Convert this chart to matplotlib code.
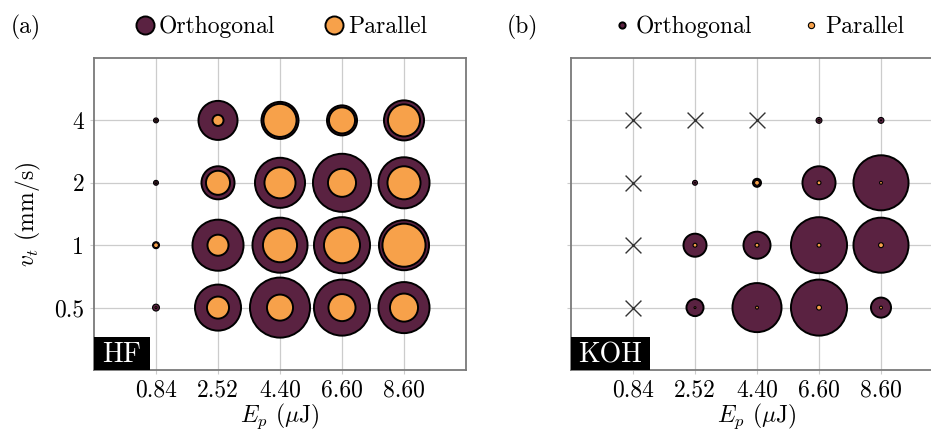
import numpy as np
import matplotlib
matplotlib.use("Agg")
import matplotlib.pyplot as plt
from matplotlib.lines import Line2D
from matplotlib.patches import Rectangle

plt.rcParams['font.family'] = 'serif'
plt.rcParams['font.serif'] = ['cmr10']
plt.rcParams['mathtext.fontset'] = 'cm'
plt.rcParams['axes.unicode_minus'] = False

# data: bubble diameters (px)
energies = ['0.84', '2.52', '4.40', '6.60', '8.60']
speeds = ['0.5', '1', '2', '4']

# rows = speeds (0.5, 1, 2, 4), columns = energies
hf_orth = [[8, 48, 62, 58, 53],
           [8, 53, 57, 58, 52],
           [6, 35, 52, 60, 53],
           [6, 41, 39, 32, 42]]
hf_par = [[3, 24, 28, 29, 30],
          [6, 23, 36, 38, 45],
          [3, 26, 33, 30, 35],
          [3, 13, 35, 28, 34]]

nan = np.nan
koh_orth = [[nan, 19, 51, 58, 22],
            [nan, 25, 29, 58, 57],
            [nan, 6, 10, 35, 57],
            [nan, nan, nan, 7, 7]]
koh_par = [[nan, 3, 4, 6, 4],
           [nan, 5, 5, 5, 6],
           [nan, 2, 6, 5, 4],
           [nan, nan, nan, 3, 2]]

ORTH = '#5a2241'
PAR = '#f7a14a'
LW = 1.4


def edge_w(d):
    # thinner outline on the very small circles so the fill still shows
    d = np.asarray(d, dtype=float)
    return np.where(d < 9, 0.8, LW)


def px_to_s(d):
    # pixel diameter (incl. stroke) -> scatter size in pt^2 at dpi 100
    d = np.asarray(d, dtype=float)
    d = d * 0.72 - edge_w(d)
    return np.clip(d, 0.5, None) ** 2


def draw_panel(ax, orth, par, tag, tag_w, leg_size):
    orth = np.array(orth, dtype=float)
    par = np.array(par, dtype=float)
    xx, yy = np.meshgrid(np.arange(len(energies)), np.arange(len(speeds)))
    ok = ~np.isnan(orth)

    ax.scatter(xx[ok], yy[ok], s=px_to_s(orth[ok]), c=ORTH, edgecolors='black',
               linewidths=edge_w(orth[ok]), zorder=3)
    ax.scatter(xx[ok], yy[ok], s=px_to_s(par[ok]), c=PAR, edgecolors='black',
               linewidths=edge_w(par[ok]), zorder=4)
    if (~ok).any():
        ax.scatter(xx[~ok], yy[~ok], marker='x', s=130, c='#333333',
                   linewidths=1.0, zorder=3)

    ax.set_xlim(-1, 5)
    ax.set_ylim(-1, 4)
    ax.set_xticks(range(len(energies)))
    ax.set_xticklabels(energies)
    ax.set_yticks(range(len(speeds)))
    ax.grid(True, color='#cccccc', linewidth=0.9, zorder=0)
    ax.set_axisbelow(True)
    ax.tick_params(length=3, color='#cccccc', labelsize=17, pad=4)
    for sp in ax.spines.values():
        sp.set_color('#7a7a7a')
        sp.set_linewidth(1.3)
    ax.set_xlabel(r'$E_p$ ($\mu$J)', fontsize=17, labelpad=0)

    # tag box in the lower left corner
    ax.add_patch(Rectangle((0, 0), tag_w, 33 / 312, transform=ax.transAxes,
                           facecolor='black', edgecolor='none', zorder=6,
                           clip_on=False))
    ax.text(tag_w / 2, 15 / 312, tag, transform=ax.transAxes, ha='center',
            va='center', color='white', fontsize=20, zorder=7)

    handles = [Line2D([], [], ls='', marker='o', markersize=leg_size,
                      markerfacecolor=ORTH, markeredgecolor='black',
                      markeredgewidth=LW),
               Line2D([], [], ls='', marker='o', markersize=leg_size,
                      markerfacecolor=PAR, markeredgecolor='black',
                      markeredgewidth=LW if leg_size > 6 else 0.8)]
    ax.legend(handles, ['Orthogonal', 'Parallel'], ncol=2, frameon=False,
              loc='center', bbox_to_anchor=(0.5, 1 + 31 / 312), fontsize=17,
              handletextpad=0.1, columnspacing=2.0, handlelength=1.0,
              borderaxespad=0)


fig = plt.figure(figsize=(9.31, 4.34), dpi=100)
ax1 = fig.add_axes([94 / 931, 64 / 434, 372 / 931, 312 / 434])
ax2 = fig.add_axes([571 / 931, 64 / 434, 372 / 931, 312 / 434])

draw_panel(ax1, hf_orth, hf_par, 'HF', 56 / 372, 13)
draw_panel(ax2, koh_orth, koh_par, 'KOH', 79 / 372, 4.5)

ax1.set_yticklabels(speeds)
ax1.set_ylabel(r'$v_t$ (mm/s)', fontsize=17, labelpad=8)
ax2.set_yticklabels([])

fig.text(26 / 931, 1 - 27 / 434, '(a)', ha='center', va='center', fontsize=17)
fig.text(522 / 931, 1 - 27 / 434, '(b)', ha='center', va='center', fontsize=17)

fig.savefig('out.png', dpi=100)
